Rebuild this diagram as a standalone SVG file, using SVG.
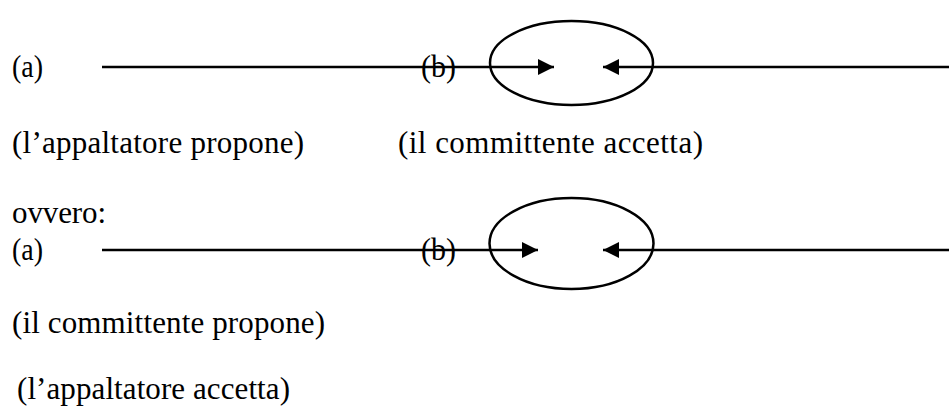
<svg xmlns="http://www.w3.org/2000/svg" width="949" height="412" viewBox="0 0 949 412">
<style>
text{font-family:'Liberation Serif','Times New Roman',Times,serif;font-size:31px;fill:#000}
.ln{stroke:#000;stroke-width:2.5;fill:none}
.el{stroke:#000;stroke-width:2.5;fill:none}
</style>
<defs>
<marker id="ah" markerWidth="16" markerHeight="16" refX="16" refY="8" orient="auto" markerUnits="userSpaceOnUse">
<path d="M0,0 L16,8 L0,16 Z" fill="#000"/>
</marker>
</defs>
<g id="labels">
<text id="t-a1" x="12" y="77" textLength="31" lengthAdjust="spacingAndGlyphs">(a)</text>
<text id="t-b1" x="421" y="77" textLength="35" lengthAdjust="spacingAndGlyphs">(b)</text>
<text id="t-prop1" x="12" y="153" textLength="292" lengthAdjust="spacing">(l’appaltatore propone)</text>
<text id="t-acc1" x="398" y="153" textLength="305" lengthAdjust="spacing">(il committente accetta)</text>
<text id="t-ovvero" x="12" y="223" textLength="94" lengthAdjust="spacing">ovvero:</text>
<text id="t-a2" x="12" y="260" textLength="31" lengthAdjust="spacingAndGlyphs">(a)</text>
<text id="t-b2" x="421" y="260" textLength="35" lengthAdjust="spacingAndGlyphs">(b)</text>
<text id="t-prop2" x="12" y="333" textLength="313" lengthAdjust="spacing">(il committente propone)</text>
<text id="t-acc2" x="17" y="399" textLength="273" lengthAdjust="spacing">(l’appaltatore accetta)</text>
</g>
<g id="node-ellipse1"><ellipse class="el" cx="571.5" cy="63" rx="81.5" ry="42"/></g>
<g id="node-ellipse2"><ellipse class="el" cx="571.5" cy="243.5" rx="82" ry="45.5"/></g>
<g id="connectors">
<line class="ln" x1="102" y1="67" x2="554" y2="67" marker-end="url(#ah)"/>
<line class="ln" x1="949" y1="67" x2="603" y2="67" marker-end="url(#ah)"/>
<line class="ln" x1="102" y1="250" x2="538" y2="250" marker-end="url(#ah)"/>
<line class="ln" x1="949" y1="250" x2="603" y2="250" marker-end="url(#ah)"/>
</g>
</svg>
